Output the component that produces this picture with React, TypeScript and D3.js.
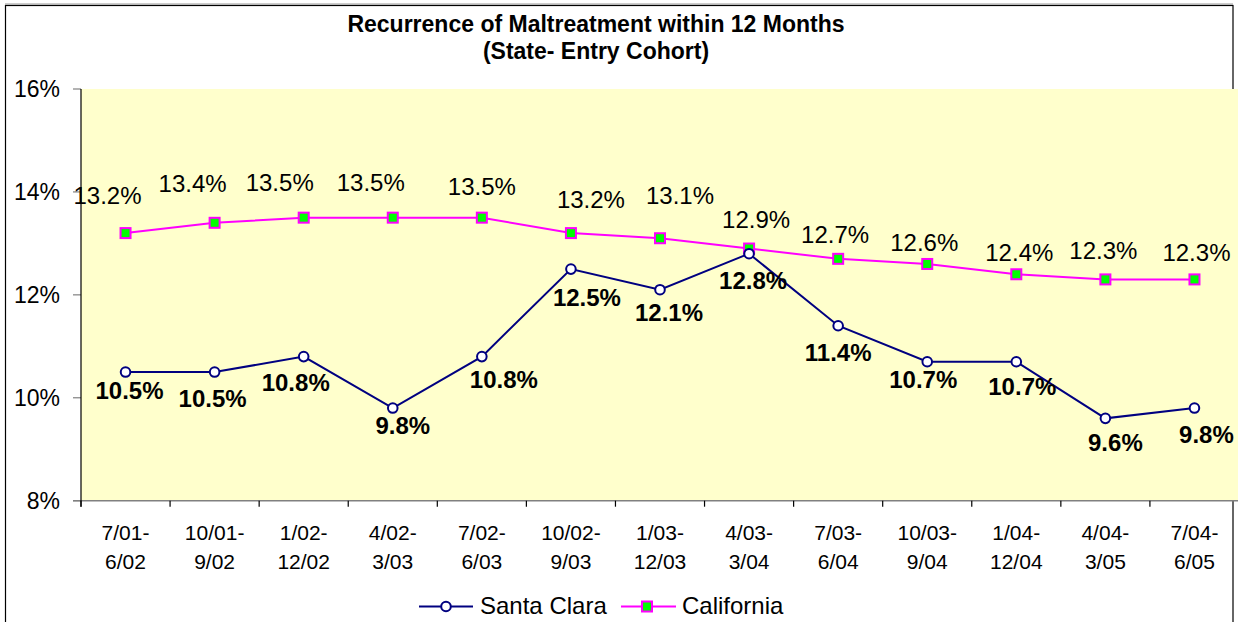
import React from "react";
import * as d3 from "d3";

const categories: string[][] = [
  ["7/01-", "6/02"],
  ["10/01-", "9/02"],
  ["1/02-", "12/02"],
  ["4/02-", "3/03"],
  ["7/02-", "6/03"],
  ["10/02-", "9/03"],
  ["1/03-", "12/03"],
  ["4/03-", "3/04"],
  ["7/03-", "6/04"],
  ["10/03-", "9/04"],
  ["1/04-", "12/04"],
  ["4/04-", "3/05"],
  ["7/04-", "6/05"],
];

const santaClara: number[] = [10.5, 10.5, 10.8, 9.8, 10.8, 12.5, 12.1, 12.8, 11.4, 10.7, 10.7, 9.6, 9.8];
const california: number[] = [13.2, 13.4, 13.5, 13.5, 13.5, 13.2, 13.1, 12.9, 12.7, 12.6, 12.4, 12.3, 12.3];

const yTicks: number[] = [8, 10, 12, 14, 16];

// label nudges (pixels) relative to the point, as placed in the original
const caLabelDx: number[] = [-18, -22, -24, -22, 0, 20, 20, 7, -3, -3, 3, -2, 2];
const caLabelDy: number[] = [-29, -31, -27, -27, -23, -25, -34, -21, -16, -13, -13, -20, -18];
const scLabelDx: number[] = [4, -2, -8, 10, 22, 16, 9, 4, 0, -4, 6, 10, 12];
const scLabelDy: number[] = [27, 35, 34, 26, 31, 37, 31, 35, 35, 26, 33, 33, 35];

const FONT = "'Liberation Sans', Arial, Helvetica, sans-serif";
const NAVY = "#000080";
const MAGENTA = "#FF00FF";
const GREEN = "#00FF00";
const BG = "#FFFFCC";

export default function App() {
  const W = 1238;
  const H = 622;
  const left = 81;
  const right = 1239;
  const top = 89;
  const bottom = 500.7;

  const idx = categories.map((_, i) => String(i));
  const x = d3.scaleBand<string>().domain(idx).range([left, right]).padding(0);
  const cx = (i: number) => (x(String(i)) as number) + x.bandwidth() / 2;
  const y = d3.scaleLinear().domain([8, 16]).range([bottom, top]);

  const line = d3
    .line<number>()
    .x((_, i) => cx(i))
    .y((d) => y(d));

  const boundaries = d3.range(categories.length + 1).map((i) => left + i * x.bandwidth());

  return (
    <div style={{ position: "absolute", left: 0, top: 0 }}>
      <svg width={W} height={H} style={{ display: "block" }} fontFamily={FONT}>
        <rect x={0} y={0} width={W} height={H} fill="#fff" />
        {/* outer chart border */}
        <line x1={5} y1={4} x2={1233} y2={4} stroke="#999" strokeWidth={1} />
        <rect x={5.5} y={5.5} width={1227.5} height={700} fill="none" stroke="#000" strokeWidth={1.2} />
        {/* plot area */}
        <rect x={left} y={top} width={right - left} height={bottom - top} fill={BG} />
        {/* title */}
        <text x={596} y={32} textAnchor="middle" fontSize={23} fontWeight="bold" fill="#000">
          Recurrence of Maltreatment within 12 Months
        </text>
        <text x={596} y={59} textAnchor="middle" fontSize={23} fontWeight="bold" fill="#000">
          (State- Entry Cohort)
        </text>
        {/* y axis */}
        {yTicks.map((t) => (
          <g key={t}>
            <line x1={73} x2={left} y1={y(t)} y2={y(t)} stroke="#808080" strokeWidth={1.2} />
            <text x={60} y={y(t)} dy="0.36em" textAnchor="end" fontSize={23} fill="#000">
              {t}%
            </text>
          </g>
        ))}
        {/* x axis */}
        <line x1={73} x2={W} y1={bottom} y2={bottom} stroke="#808080" strokeWidth={1.5} />
        <line x1={left} x2={left} y1={top} y2={bottom + 6} stroke="#000" strokeWidth={1.2} />
        {boundaries.map((b, i) => (
          <line key={i} x1={b} x2={b} y1={bottom} y2={bottom + 6} stroke="#000" strokeWidth={1.2} />
        ))}
        {categories.map((c, i) => (
          <text key={i} x={cx(i)} textAnchor="middle" fontSize={21} fill="#000">
            <tspan x={cx(i)} y={540}>{c[0]}</tspan>
            <tspan x={cx(i)} y={569}>{c[1]}</tspan>
          </text>
        ))}
        {/* series lines */}
        <path d={line(california) || ""} fill="none" stroke={MAGENTA} strokeWidth={2} />
        <path d={line(santaClara) || ""} fill="none" stroke={NAVY} strokeWidth={2} />
        {california.map((v, i) => (
          <rect key={i} x={cx(i) - 5} y={y(v) - 5} width={10} height={10} fill={GREEN} stroke={MAGENTA} strokeWidth={2} />
        ))}
        {santaClara.map((v, i) => (
          <circle key={i} cx={cx(i)} cy={y(v)} r={4.8} fill="#fff" stroke={NAVY} strokeWidth={2} />
        ))}
        {/* data labels */}
        {california.map((v, i) => (
          <text key={i} x={cx(i) + caLabelDx[i]} y={y(v) + caLabelDy[i]} textAnchor="middle" fontSize={24} fill="#000">
            {v.toFixed(1)}%
          </text>
        ))}
        {santaClara.map((v, i) => (
          <text key={i} x={cx(i) + scLabelDx[i]} y={y(v) + scLabelDy[i]} textAnchor="middle" fontSize={24} fontWeight="bold" fill="#000">
            {v.toFixed(1)}%
          </text>
        ))}
        {/* legend */}
        <g>
          <line x1={419} x2={473} y1={606.5} y2={606.5} stroke={NAVY} strokeWidth={2} />
          <circle cx={446} cy={606.5} r={4.8} fill="#fff" stroke={NAVY} strokeWidth={2} />
          <text x={480} y={614} fontSize={24} fill="#000">Santa Clara</text>
          <line x1={621} x2={676} y1={606.5} y2={606.5} stroke={MAGENTA} strokeWidth={2} />
          <rect x={642} y={601.5} width={10} height={10} fill={GREEN} stroke={MAGENTA} strokeWidth={2} />
          <text x={682} y={614} fontSize={24} fill="#000">California</text>
        </g>
      </svg>
    </div>
  );
}
